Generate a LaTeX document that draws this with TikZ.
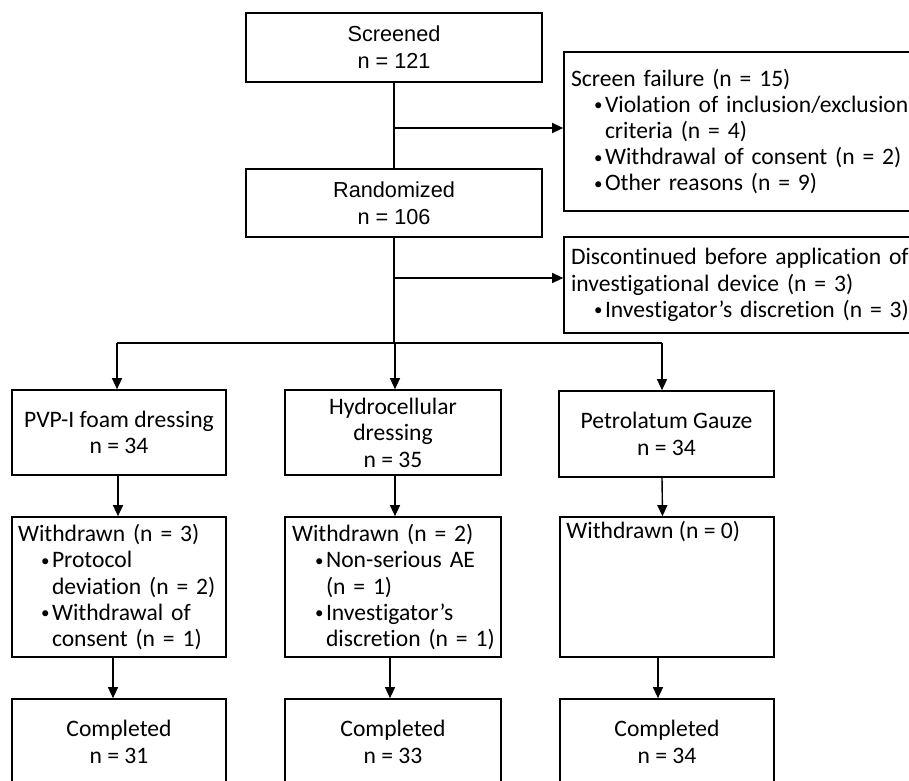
\documentclass[tikz,border=0pt]{standalone}
\usepackage{fontspec}
\setmainfont{Carlito}[RawFeature=-liga]
\newfontfamily\arialf{Liberation Sans}
\usetikzlibrary{arrows.meta}
\newcommand{\smbul}{\raisebox{1.5pt}{\fontsize{17}{17}\selectfont\textbullet}}
\newcommand{\fline}[1]{\mbox{#1}}
\newcommand{\fbul}[1]{\mbox{\hspace*{23pt}\makebox[11pt][l]{\smbul}#1}}
\newcommand{\fcont}[1]{\mbox{\hspace*{34pt}#1}}
\begin{document}
\begin{tikzpicture}[x=1pt,y=-1pt,
  box/.style={draw=black, line width=1.7pt, rectangle, inner sep=0pt, align=center,
    font=\fontsize{23.6}{26.6}\selectfont},
  abox/.style={box, font=\arialf\fontsize{21.7}{27}\selectfont},
  lbox/.style={draw=black, line width=1.7pt, rectangle, inner xsep=7pt, inner ysep=0pt,
    align=left, font=\fontsize{23.6}{26.2}\selectfont},
  conn/.style={line width=1.4pt},
  arr/.style={conn, -{Triangle[length=11pt,width=10pt]}},
]
\useasboundingbox (0,0) rectangle (909,780);
\clip (0,0) rectangle (909,780);

% top column
\node[abox, minimum width=296pt, minimum height=69pt] (scr) at (394,47.5) {Screened\\n = 121};
\node[abox, minimum width=296pt, minimum height=68pt] (ran) at (394,203) {Randomized\\n = 106};

% side boxes
\node[lbox, text width=347pt, minimum height=159pt] (fail) at (744.5,131.5)
  {\fline{Screen failure (n = 15)}\\ \fbul{Violation of inclusion/exclusion}\\ \fcont{criteria (n = 4)}\\ \fbul{Withdrawal of consent (n = 2)}\\ \fbul{Other reasons (n = 9)}};
\node[lbox, text width=347pt, minimum height=96pt] (disc) at (744.5,285)
  {\fline{Discontinued before application of}\\ \fline{investigational device (n = 3)}\\ \fbul{Investigator’s discretion (n = 3)}};

% arms
\node[box, minimum width=214pt, minimum height=85pt] (pvp) at (119,432.5) {PVP-I foam dressing\\n = 34};
\node[box, minimum width=216pt, minimum height=85pt] (hydro) at (393,432.5) {Hydrocellular\\dressing\\n = 35};
\node[box, minimum width=215pt, minimum height=86pt] (petro) at (666.5,434) {Petrolatum Gauze\\n = 34};

% withdrawn
\node[lbox, inner xsep=6pt, text width=202pt, minimum height=140pt] (w1) at (119,587)
  {\fline{Withdrawn (n = 3)}\\ \fbul{Protocol}\\ \fcont{deviation (n = 2)}\\ \fbul{Withdrawal of}\\ \fcont{consent (n = 1)}};
\node[lbox, inner xsep=7pt, text width=202pt, minimum height=140pt] (w2) at (393,587)
  {\fline{Withdrawn (n = 2)}\\ \fbul{Non-serious AE}\\ \fcont{(n = 1)}\\ \fbul{Investigator’s}\\ \fcont{discretion (n = 1)}};
\node[draw=black, line width=1.7pt, rectangle, inner sep=0pt, minimum width=214pt, minimum height=140pt,
  label={[anchor=base west, inner sep=0pt, xshift=7pt, yshift=-22pt, font=\fontsize{23.6}{26.2}\selectfont]north west:Withdrawn (n = 0)}]
  (w3) at (667,587) {};

% completed
\node[box, minimum width=214pt, minimum height=86pt] (c1) at (119,742) {Completed\\n = 31};
\node[box, minimum width=216pt, minimum height=86pt] (c2) at (393,742) {Completed\\n = 33};
\node[box, minimum width=214pt, minimum height=86pt] (c3) at (667,742) {Completed\\n = 34};

% connectors
\coordinate (j1) at (394,128);
\coordinate (j2) at (394,278);
\coordinate (bm) at (394,343);
\coordinate (bl) at (117,343);
\coordinate (bh) at (395,343);
\coordinate (bp) at (662,343);

\draw[conn] (scr.south) -- (ran.north);
\draw[arr] (j1) -- (j1 -| fail.west);
\draw[conn] (ran.south) -- (bm);
\draw[arr] (j2) -- (j2 -| disc.west);
\draw[conn] (bl) -- (bp);
\draw[arr] (bl) -- (bl |- pvp.north);
\draw[arr] (bh) -- (bh |- hydro.north);
\draw[arr] (bp) -- (bp |- petro.north);

\draw[arr] ([xshift=-1pt]pvp.south) -- ([xshift=-1pt]w1.north);
\draw[arr] ([xshift=2pt]hydro.south) -- ([xshift=2pt]w2.north);
\draw[arr] ([xshift=-4.5pt]petro.south) -- ([xshift=-4.5pt]w3.north);

\draw[arr] ([xshift=-6pt]w1.south) -- ([xshift=-6pt]c1.north);
\draw[arr] ([xshift=-3pt]w2.south) -- ([xshift=-3pt]c2.north);
\draw[arr] ([xshift=-9pt]w3.south) -- ([xshift=-9pt]c3.north);
\end{tikzpicture}
\end{document}
